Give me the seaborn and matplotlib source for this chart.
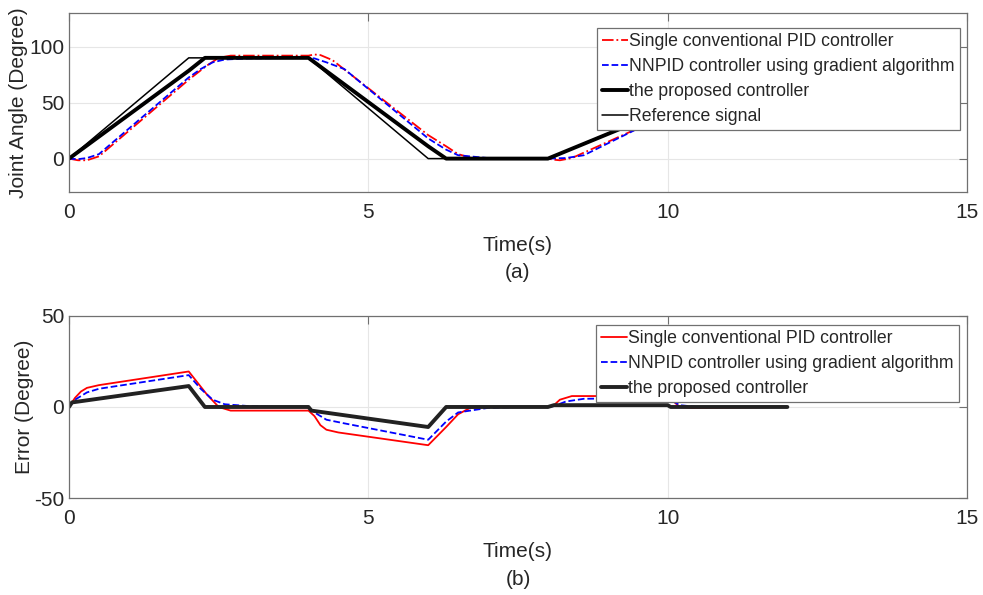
import numpy as np
import pandas as pd
import matplotlib
matplotlib.use("Agg")
import matplotlib.pyplot as plt
import seaborn as sns

# ---------------- data ----------------
# (a) joint angle
ref_t = [0, 2, 4, 6, 8, 10, 12]
ref_y = [0, 90, 90, 0, 0, 45, 45]

prop_t = [0, 2.0, 2.27, 4.0, 6.0, 6.3, 8.0, 10.0, 10.05, 12]
prop_y = [0, 78.5, 90, 90, 11, 0, 0, 44, 45, 45]

pid_t = [0, 0.15, 0.3, 0.5, 2.0, 2.3, 2.5, 2.7, 4.0, 4.1, 4.2, 4.4, 6.0, 6.3, 6.5, 6.7, 7.0, 8.0, 8.1, 8.2, 8.4, 10.0, 10.2, 10.4, 12]
pid_y = [0, -1.5, -1.5, 2, 70.5, 83, 90, 92, 92, 93, 92.5, 88, 21, 11, 4, 1, 0, 0, -1, -1.5, 0.5, 39, 44, 45.5, 45]

nn_t = [0, 0.15, 0.3, 0.5, 2.0, 2.2, 2.4, 2.6, 3.0, 4.0, 4.1, 4.3, 4.6, 6.0, 6.3, 6.5, 7.0, 7.5, 8.0, 8.3, 8.6, 10.0, 10.2, 10.5, 12]
nn_y = [0, -0.5, 0.5, 4, 72.5, 80, 86, 88.5, 89.5, 90, 89.5, 86, 80, 18, 8, 3, 0.5, 0, 0, 0.5, 3, 40, 44, 45, 45]

# (b) error
e_pid_t = [0, 0.1, 0.2, 0.3, 0.5, 2.0, 2.3, 2.5, 2.7, 4.0, 4.1, 4.2, 4.3, 4.5, 6.0, 6.3, 6.5, 6.7, 7.0, 8.0, 8.1, 8.2, 8.4, 10.0, 10.1, 10.2, 10.4, 12]
e_pid_y = [0, 5, 8.5, 10.5, 12, 19.5, 7, 0, -2, -2, -5, -10, -12.5, -14, -21, -11, -4, -0.5, 0, 0, 1, 4, 6, 6, 3, 0, -0.5, 0]

e_nn_t = [0, 0.1, 0.3, 0.5, 2.0, 2.2, 2.4, 2.6, 3.0, 3.5, 4.0, 4.1, 4.3, 4.6, 6.0, 6.3, 6.5, 7.0, 7.5, 8.0, 8.1, 8.3, 8.6, 10.0, 10.2, 10.5, 12]
e_nn_y = [0, 4, 8, 10, 17.5, 10, 4, 1.5, 0.5, 0, 0, -3, -7, -9, -18, -8, -3, -0.5, 0, 0, 0.5, 3, 4.5, 5, 1, 0, 0]

e_prop_t = [0, 0.05, 2.0, 2.27, 4.0, 4.05, 6.0, 6.3, 8.0, 8.1, 10.0, 10.05, 12]
e_prop_y = [0, 2.5, 11.5, 0, 0, -2, -11, 0, 0, 1, 1, 0, 0]

x_ticks = [0, 5, 10, 15]
top_yticks = [0, 50, 100]
bot_yticks = [-50, 0, 50]

lab_pid = "Single conventional PID controller"
lab_nn = "NNPID controller using gradient algorithm"
lab_prop = "the proposed controller"
lab_ref = "Reference signal"

# ---------------- style ----------------
sns.set_style("white")
plt.rcParams["font.family"] = ["Liberation Sans", "DejaVu Sans"]
plt.rcParams["axes.unicode_minus"] = False

fig = plt.figure(figsize=(9.83, 5.95), dpi=100)
ax1 = fig.add_axes([0.0702, 0.677, 0.9135, 0.301])
ax2 = fig.add_axes([0.0702, 0.163, 0.9135, 0.306])

# top
sns.lineplot(x=pid_t, y=pid_y, ax=ax1, color="#ff0000", linestyle="-.", linewidth=1.3, label=lab_pid)
sns.lineplot(x=nn_t, y=nn_y, ax=ax1, color="#0000ff", linestyle="--", linewidth=1.3, label=lab_nn)
sns.lineplot(x=prop_t, y=prop_y, ax=ax1, color="black", linestyle="-", linewidth=2.8, label=lab_prop)
sns.lineplot(x=ref_t, y=ref_y, ax=ax1, color="black", linestyle="-", linewidth=1.1, label=lab_ref)

# bottom
sns.lineplot(x=e_pid_t, y=e_pid_y, ax=ax2, color="#ff0000", linestyle="-", linewidth=1.3, label=lab_pid)
sns.lineplot(x=e_nn_t, y=e_nn_y, ax=ax2, color="#0000ff", linestyle="--", linewidth=1.3, label=lab_nn)
sns.lineplot(x=e_prop_t, y=e_prop_y, ax=ax2, color="#222222", linestyle="-", linewidth=2.8, label=lab_prop)

for ax, yl, yt, ylab, sub, anchor, lpad in [
    (ax1, (-30, 130), top_yticks, "Joint Angle (Degree)", "(a)", (0.992, 0.916), 1),
    (ax2, (-50, 50), bot_yticks, "Error (Degree)", "(b)", (0.991, 0.95), 0),
]:
    ax.set_xlim(0, 15)
    ax.set_ylim(*yl)
    ax.set_xticks(x_ticks)
    ax.set_yticks(yt)
    ax.grid(True, color="#e6e6e6", linewidth=0.8)
    ax.set_axisbelow(True)
    for s in ax.spines.values():
        s.set_color("#707070")
        s.set_linewidth(0.9)
    ax.tick_params(direction="in", length=6, width=0.8, color="#707070",
                   top=True, right=True, labelsize=15, labelcolor="#262626")
    ax.tick_params(axis="x", pad=8)
    ax.set_xlabel("Time(s)", fontsize=15, color="#262626", labelpad=10)
    ax.set_ylabel(ylab, fontsize=15, color="#262626", labelpad=lpad)
    ax.text(0.5, -0.45, sub, transform=ax.transAxes, ha="center", va="center",
            fontsize=15, color="#262626")
    leg = ax.legend(loc="upper right", bbox_to_anchor=anchor, fontsize=12.7,
                    frameon=True, fancybox=False, framealpha=1, edgecolor="#707070",
                    handlelength=1.45, handletextpad=0.1, borderpad=0.28,
                    labelspacing=0.45, borderaxespad=0.0)
    leg.get_frame().set_linewidth(0.9)
    leg.set_zorder(10)

fig.savefig("out.png", dpi=100)
